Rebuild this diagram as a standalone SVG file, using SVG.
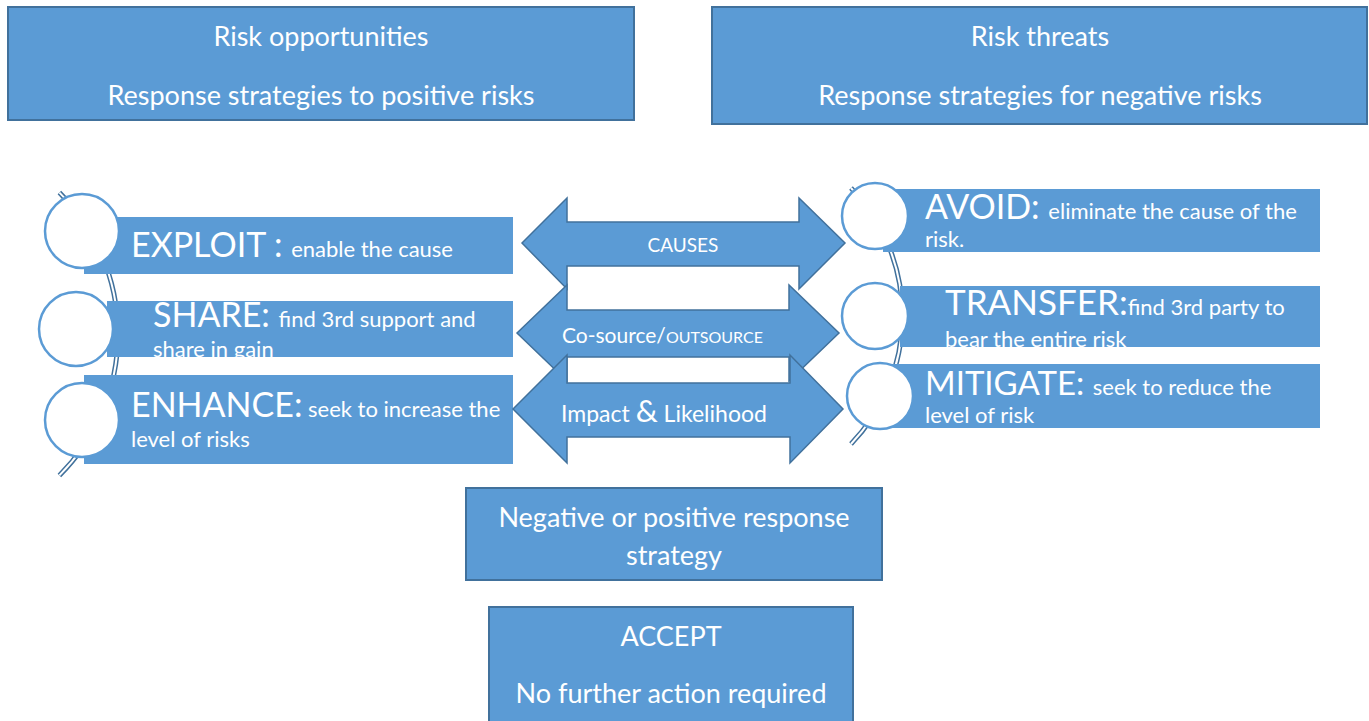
<svg xmlns="http://www.w3.org/2000/svg" width="1369" height="721" viewBox="0 0 1369 721">
<style>
.box{fill:#5B9BD5;stroke:#41719C;stroke-width:2}
.bar{fill:#5B9BD5}
.circ{fill:#fff;stroke:#5B9BD5;stroke-width:2.5}
.arr{fill:#5B9BD5;stroke:#41719C;stroke-width:1.5}
.band{fill:none;stroke:#41719C;stroke-width:5}
.bandin{fill:none;stroke:#fff;stroke-width:2}
text{font-family:Lato,"Liberation Sans",sans-serif;fill:#fff}
.t{font-size:27px;text-anchor:middle}
.big{font-size:34px}
.sm{font-size:22px}
.mid{text-anchor:middle}
</style>
<defs>
<clipPath id="cShare"><rect x="107" y="301" width="406" height="56"/></clipPath>
<clipPath id="cTransfer"><rect x="900" y="286" width="420" height="61"/></clipPath>
</defs>

<g id="connectors">
<path class="band" d="M 59.4 192.6 A 200 200 0 0 1 59.4 475.4"/>
<path class="bandin" d="M 59.4 192.6 A 200 200 0 0 1 59.4 475.4"/>
<path class="band" d="M 851 188 A 185 185 0 0 1 851 444"/>
<path class="bandin" d="M 851 188 A 185 185 0 0 1 851 444"/>
</g>

<g id="header-opportunities">
<rect class="box" x="8" y="7" width="626" height="113"/>
<text class="t" x="321" y="46">Risk opportunities</text>
<text class="t" x="321" y="105">Response strategies to positive risks</text>
</g>
<g id="header-threats">
<rect class="box" x="712" y="7" width="655" height="117"/>
<text class="t" x="1040" y="46">Risk threats</text>
<text class="t" x="1040" y="105">Response strategies for negative risks</text>
</g>

<g id="exploit">
<rect class="bar" x="84" y="217" width="429" height="57"/>
<circle class="circ" cx="82" cy="231" r="37"/>
<text x="131" y="257"><tspan class="big">EXPLOIT : </tspan><tspan class="sm">enable the cause</tspan></text>
</g>
<g id="share">
<rect class="bar" x="107" y="301" width="406" height="56"/>
<circle class="circ" cx="76" cy="329" r="37"/>
<g clip-path="url(#cShare)">
<text x="153" y="327"><tspan class="big">SHARE: </tspan><tspan class="sm">find 3rd support and</tspan></text>
<text class="sm" x="153" y="357">share in gain</text>
</g>
</g>
<g id="enhance">
<rect class="bar" x="84" y="375" width="429" height="89"/>
<circle class="circ" cx="82" cy="420" r="37"/>
<text x="131" y="417"><tspan class="big">ENHANCE:</tspan><tspan class="sm"> seek to increase the</tspan></text>
<text class="sm" x="131" y="447">level of risks</text>
</g>

<g id="avoid">
<rect class="bar" x="883" y="189" width="437" height="63"/>
<circle class="circ" cx="875" cy="216" r="33"/>
<text x="925" y="219"><tspan class="big" font-size="32">AVOID: </tspan><tspan class="sm">eliminate the cause of the</tspan></text>
<text class="sm" x="925" y="247">risk.</text>
</g>
<g id="transfer">
<rect class="bar" x="900" y="286" width="420" height="61"/>
<circle class="circ" cx="875" cy="316" r="33"/>
<g clip-path="url(#cTransfer)">
<text x="945" y="315"><tspan class="big" style="font-size:35px">TRANSFER:</tspan><tspan class="sm">find 3rd party to</tspan></text>
<text class="sm" x="945" y="347">bear the entire risk</text>
</g>
</g>
<g id="mitigate">
<rect class="bar" x="888" y="364" width="432" height="64"/>
<circle class="circ" cx="880" cy="396" r="33"/>
<text x="925" y="395"><tspan class="big" style="font-size:33px">MITIGATE: </tspan><tspan class="sm">seek to reduce the</tspan></text>
<text class="sm" x="925" y="423">level of risk</text>
</g>

<g id="arrow-causes">
<polygon class="arr" points="522,243 567,198 567,222 799,222 799,198 845,243 799,289 799,266 567,266 567,289"/>
<text class="mid" x="683" y="252" font-size="19">CAUSES</text>
</g>
<g id="arrow-cosource">
<polygon class="arr" points="517,333 567,285 567,310 789,310 789,285 839,333 789,381 789,357 567,357 567,381"/>
<text x="562" y="343"><tspan font-size="21">Co-source/</tspan><tspan font-size="16">OUTSOURCE</tspan></text>
</g>
<g id="arrow-impact">
<polygon class="arr" points="513,409 567,355 567,383 790,383 790,355 843,409 790,463 790,437 567,437 567,463"/>
<text x="561" y="422"><tspan font-size="23">Impact </tspan><tspan font-size="31">&amp;</tspan><tspan font-size="23"> Likelihood</tspan></text>
</g>

<g id="strategy">
<rect class="box" x="466" y="488" width="416" height="92"/>
<text class="t" x="674" y="527">Negative or positive response</text>
<text class="t" x="674" y="565">strategy</text>
</g>
<g id="accept">
<rect class="box" x="489" y="607" width="364" height="120"/>
<text class="t" x="671" y="646">ACCEPT</text>
<text class="t" x="671" y="703">No further action required</text>
</g>
</svg>
